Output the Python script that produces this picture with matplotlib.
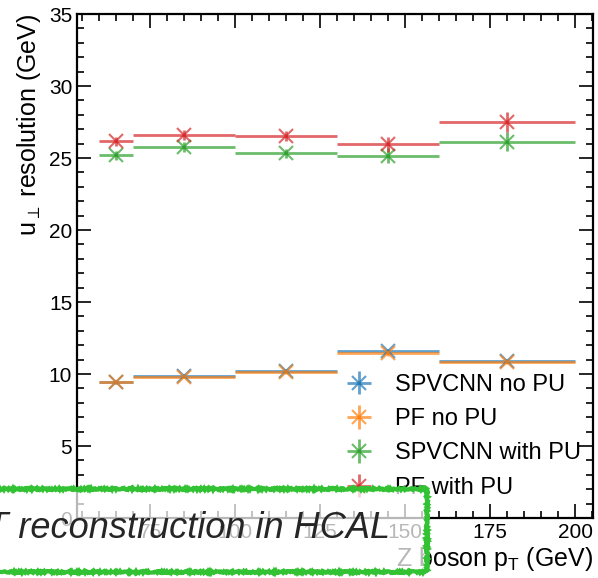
import matplotlib

matplotlib.use("Agg")
import matplotlib.pyplot as plt
import numpy as np
from matplotlib.patches import Rectangle
from matplotlib.ticker import MultipleLocator

# Z boson pT binning (GeV).
bin_edges = [60, 70, 100, 130, 160, 200]

# u_perp resolution (GeV) per bin.
spvcnn_no_pu = [9.43, 9.88, 10.23, 11.57, 10.90]
pf_no_pu = [9.42, 9.81, 10.14, 11.48, 10.81]
spvcnn_with_pu = [25.19, 25.74, 25.32, 25.16, 26.13]
pf_with_pu = [26.16, 26.60, 26.55, 25.95, 27.50]

spvcnn_no_pu_err = [0.10, 0.12, 0.12, 0.20, 0.15]
pf_no_pu_err = [0.10, 0.12, 0.12, 0.20, 0.15]
spvcnn_with_pu_err = [0.30, 0.35, 0.30, 0.50, 0.65]
pf_with_pu_err = [0.30, 0.35, 0.35, 0.50, 0.70]

labels = ["SPVCNN no PU", "PF no PU", "SPVCNN with PU", "PF with PU"]
colors = ["#1f77b4", "#ff7f0e", "#2ca02c", "#d62728"]

plt.rcParams["font.family"] = ["Liberation Sans", "DejaVu Sans"]
plt.rcParams["mathtext.fontset"] = "custom"
plt.rcParams["mathtext.rm"] = "Liberation Sans"
plt.rcParams["mathtext.it"] = "Liberation Sans:italic"


def _add_series(ax: plt.Axes, values, errors, color, label):
    edges = np.asarray(bin_edges, dtype=float)
    centers = 0.5 * (edges[1:] + edges[:-1])
    half_widths = 0.5 * (edges[1:] - edges[:-1])
    ax.errorbar(
        centers,
        values,
        xerr=half_widths,
        yerr=errors,
        marker="x",
        markersize=10,
        markeredgewidth=1.5,
        linestyle="none",
        elinewidth=2,
        color=color,
        alpha=0.7,
        label=label,
    )
    return ax


fig = plt.figure(figsize=(5.98, 5.78), dpi=100)
ax = fig.add_axes([77 / 598, 60 / 578, 515.5 / 598, 504 / 578])

series = [
    (spvcnn_no_pu, spvcnn_no_pu_err),
    (pf_no_pu, pf_no_pu_err),
    (spvcnn_with_pu, spvcnn_with_pu_err),
    (pf_with_pu, pf_with_pu_err),
]
for (values, errors), color, label in zip(series, colors, labels):
    ax = _add_series(ax, values, errors, color, label)

# Axes styling (HEP-like: inward ticks on all sides, labels at the ends).
ax.set_xlim(53.5, 205.1)
ax.set_ylim(0, 35)
ax.xaxis.set_major_locator(MultipleLocator(25))
ax.xaxis.set_minor_locator(MultipleLocator(5))
ax.yaxis.set_major_locator(MultipleLocator(5))
ax.yaxis.set_minor_locator(MultipleLocator(1))
ax.tick_params(which="both", direction="in", top=True, right=True, width=1.2, labelsize=15)
ax.tick_params(which="major", length=10)
ax.tick_params(which="minor", length=5)
for spine in ax.spines.values():
    spine.set_linewidth(1.6)
ax.set_xlabel(r"Z boson p$_{\mathrm{T}}$ (GeV)", fontsize=18, loc="right", labelpad=2)
ax.set_ylabel(r"u$_{\perp}$ resolution (GeV)", fontsize=18, loc="top")

ax.legend(
    loc="lower right",
    bbox_to_anchor=(1.018, -0.004),
    frameon=False,
    fontsize=17,
    handlelength=1.0,
    handletextpad=1.0,
    labelspacing=0.52,
)

# Overlaid caption box with a rough green outline.
box = Rectangle(
    (-0.05, 6 / 578),
    0.05 + 427 / 598,
    83 / 578,
    transform=fig.transFigure,
    facecolor=(1, 1, 1, 0.72),
    edgecolor="#33c233",
    linewidth=3,
    zorder=10,
)
box.set_sketch_params(scale=1.0, length=2, randomness=2)
fig.patches.append(box)
fig.text(
    390 / 598,
    1 - 538 / 578,
    "MET reconstruction in HCAL",
    ha="right",
    va="baseline",
    fontsize=26,
    style="italic",
    color="#262626",
    zorder=11,
)

fig.savefig("out.png", dpi=100)
